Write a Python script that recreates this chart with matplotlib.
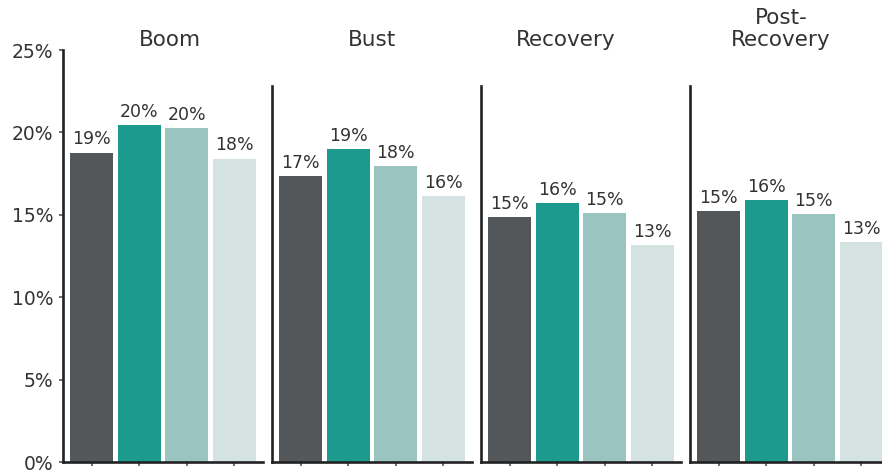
import matplotlib
matplotlib.use("Agg")
import matplotlib.pyplot as plt
from matplotlib.ticker import FuncFormatter

# share of returns by market phase, four series per phase
phases = ["Boom", "Bust", "Recovery", "Post-\nRecovery"]
boom = [18.77, 20.45, 20.27, 18.4]
bust = [17.35, 18.99, 17.95, 16.13]
recovery = [14.86, 15.71, 15.1, 13.16]
post_recovery = [15.22, 15.88, 15.04, 13.34]
values = [boom, bust, recovery, post_recovery]

colors = ["#53575a", "#1d9a8e", "#9ac4bf", "#d4e3e2"]
yticks = [0, 5, 10, 15, 20, 25]
# horizontal placement of each phase title (axes fraction)
title_x = [0.535, 0.5, 0.425, 0.455]

plt.rcParams["font.family"] = ["DejaVu Sans"]
text_color = "#333333"

fig = plt.figure(figsize=(8.82, 4.72), dpi=100)
W, H = 882, 472
left_px = [63, 272, 481, 690]
ax_w, bottom_px, top_px = 200, 462, 50

for i, (phase, vals) in enumerate(zip(phases, values)):
    ax = fig.add_axes([left_px[i] / W, (H - bottom_px) / H, ax_w / W, (bottom_px - top_px) / H])
    x = list(range(len(vals)))
    ax.bar(x, vals, width=0.9, color=colors, zorder=2)
    for xi, v in zip(x, vals):
        ax.annotate(f"{v:.0f}%", (xi, v), xytext=(0, 6), textcoords="offset points",
                    ha="center", va="baseline", fontsize=12.5, color=text_color)
    ax.set_xlim(-0.6, 3.6)
    ax.set_ylim(0, 25)
    ax.set_xticks(x)
    ax.set_xticklabels([])
    ax.tick_params(axis="x", length=3, width=1.2, color="#555555")
    for s in ["top", "right"]:
        ax.spines[s].set_visible(False)
    for s in ["left", "bottom"]:
        ax.spines[s].set_linewidth(1.9)
        ax.spines[s].set_color("#222222")
    if i == 0:
        ax.set_yticks(yticks)
        ax.yaxis.set_major_formatter(FuncFormatter(lambda v, _: f"{v:.0f}%"))
        ax.tick_params(axis="y", length=3, width=1.2, color="#555555", pad=4,
                       labelsize=13.5, labelcolor=text_color)
    else:
        ax.set_yticks([])
        ax.spines["left"].set_bounds(0, 22.8)
    ax.set_title(phase, fontsize=15.5, color=text_color, pad=1, linespacing=1.15,
                 x=title_x[i])

fig.savefig("out.png", dpi=100)
